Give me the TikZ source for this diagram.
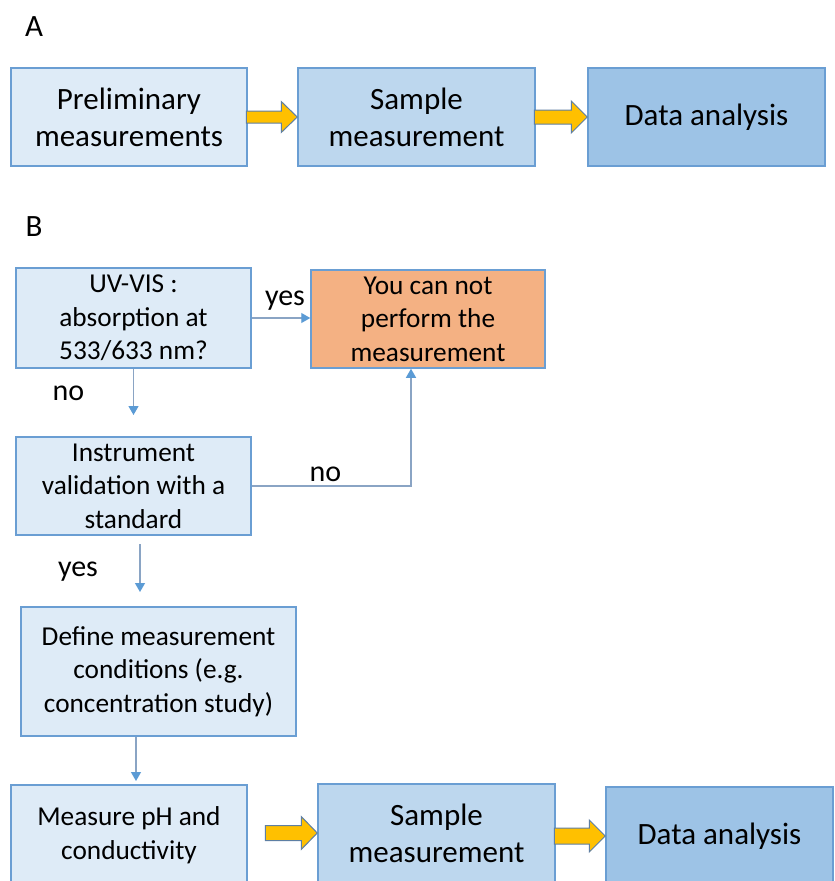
\documentclass[tikz,border=0pt]{standalone}
\usepackage{fontspec}
\setmainfont{Carlito}
\usetikzlibrary{arrows.meta,calc}
\definecolor{boxline}{HTML}{6A9ED3}
\definecolor{fillA}{HTML}{DEEBF7}
\definecolor{fillB}{HTML}{BDD7EE}
\definecolor{fillC}{HTML}{9DC3E6}
\definecolor{fillO}{HTML}{F4B183}
\definecolor{yel}{HTML}{FFC000}
\definecolor{yelline}{HTML}{5E7FA3}
\definecolor{connc}{HTML}{8AA4C4}
\definecolor{tipc}{HTML}{5B9BD5}
\tikzset{
 box/.style={draw=boxline, line width=1.5pt, inner sep=0pt, align=center, text=black},
 bigtext/.style={font=\fontsize{31}{37}\selectfont},
 smalltext/.style={font=\fontsize{27.3}{33.5}\selectfont},
 lbl/.style={font=\fontsize{30}{36}\selectfont, anchor=base, inner sep=0pt},
 conn/.style={draw=connc, line width=1.3pt, -{Triangle[width=10pt,length=9pt,color=tipc]}},
 yarrow/.style={fill=yel, draw=yelline, line width=1pt, line join=miter},
}
\newcommand{\blockarrow}[4]{%
 \draw[yarrow] (#1) -- ++(-16,-#4) -- ++(0,#4-#3) -- ++(16-#2,0) -- ++(0,2*#3) -- ++(#2-16,0) -- ++(0,#4-#3) -- cycle;}
\begin{document}
\begin{tikzpicture}[x=1pt,y=-1pt]
\useasboundingbox (0,0) rectangle (835,881);
\clip (0,0) rectangle (835,881);
\fill[white] (0,0) rectangle (835,881);
% Panel A
\node[lbl, font=\fontsize{31}{37}\selectfont] (lA) at (34,36) {A};
\node[box, bigtext, fill=fillA, minimum width=236pt, minimum height=98pt] (p1) at (129,117) {Preliminary\\measurements};
\node[box, bigtext, fill=fillB, minimum width=237pt, minimum height=98pt] (s1) at (416.5,117) {Sample\\measurement};
\node[box, bigtext, fill=fillC, minimum width=237pt, minimum height=98pt] (d1) at (706.5,117) {Data analysis};
\blockarrow{s1.west}{51}{6}{15.5}
\blockarrow{d1.west}{53}{7}{16}
% Panel B
\node[lbl, font=\fontsize{31}{37}\selectfont] (lB) at (34,236) {B};
\node[box, smalltext, fill=fillA, minimum width=235pt, minimum height=100pt] (uv) at (133.5,318) {UV-VIS :\\absorption at\\533/633 nm?};
\node[box, smalltext, fill=fillO, minimum width=234pt, minimum height=98pt] (or) at (428,319) {You can not\\perform the\\measurement};
\node[box, smalltext, fill=fillA, minimum width=235pt, minimum height=98pt] (inst) at (133.5,486) {Instrument\\validation with a\\standard};
\node[box, smalltext, fill=fillA, minimum width=275pt, minimum height=129pt] (def) at (158.5,671.5) {Define measurement\\conditions (e.g.\\concentration study)};
\node[box, smalltext, fill=fillA, minimum width=236pt, minimum height=100pt] (meas) at (129,835) {Measure pH and\\conductivity};
\node[box, bigtext, fill=fillB, minimum width=237pt, minimum height=98pt] (s2) at (436.5,833) {Sample\\measurement};
\node[box, bigtext, fill=fillC, minimum width=227pt, minimum height=98pt] (d2) at (719.5,836) {Data analysis};
\blockarrow{s2.west}{52}{7.5}{16.5}
\blockarrow{d2.west}{51}{8}{16}
% connectors
\draw[conn] (uv.east) -- (uv.east -| or.west);
\coordinate (n1end) at (133.5,415);
\draw[conn] (uv.south) -- (n1end);
\draw[conn] (inst.east) -| ([xshift=-17pt]or.south);
\coordinate (y1start) at (140,544);
\coordinate (y1end) at (140,592);
\draw[conn] (y1start) -- (y1end);
\coordinate (d1end) at (136,781);
\draw[conn] (def.south -| d1end) -- (d1end);
% labels
\node[lbl] (yes1) at (285,305) {yes};
\node[lbl] (no1) at (68.5,400) {no};
\node[lbl] (no2) at (325.5,481) {no};
\node[lbl] (yes2) at (78,576) {yes};
\end{tikzpicture}
\end{document}
